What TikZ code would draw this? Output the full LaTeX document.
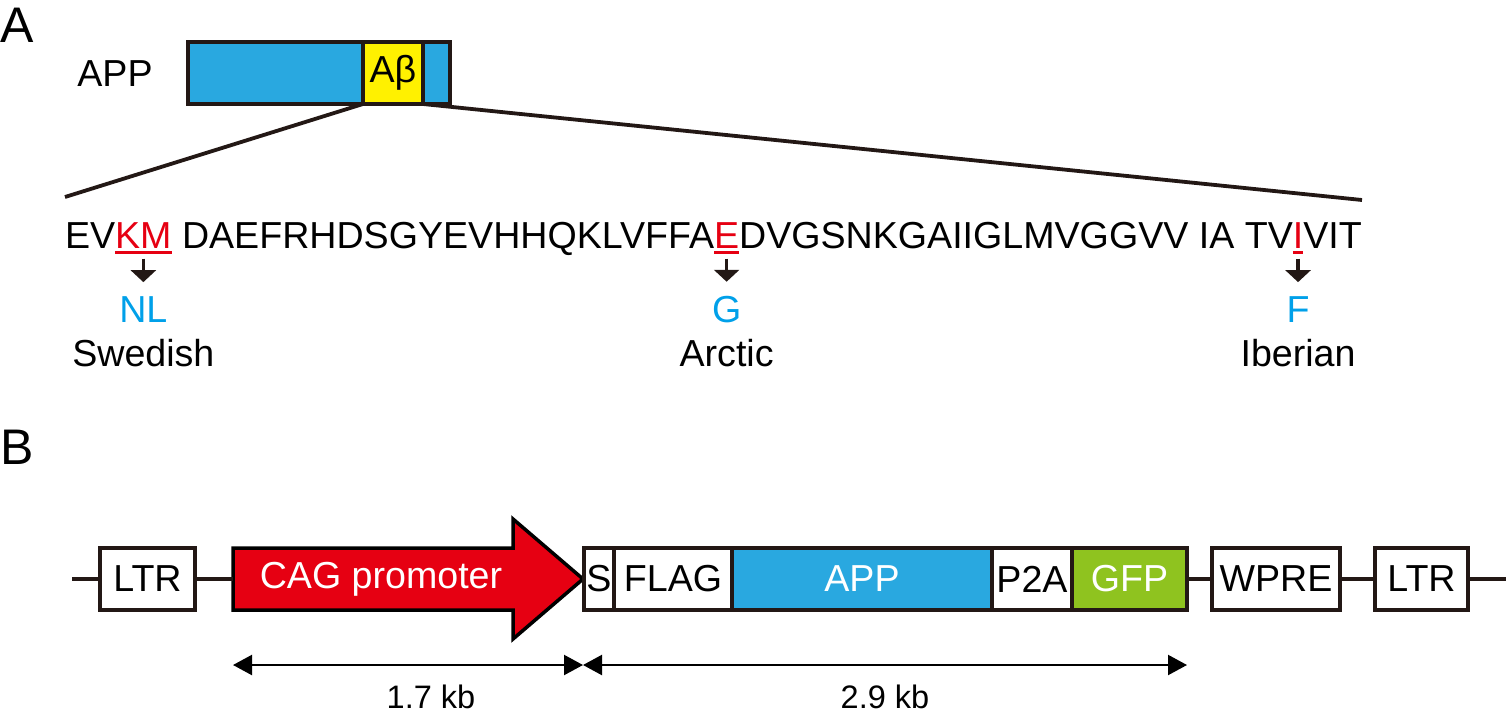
\documentclass[tikz,border=0pt]{standalone}
\usepackage{fontspec}
\setmainfont{Liberation Sans}
\usetikzlibrary{arrows.meta}
\definecolor{outl}{HTML}{231815}
\definecolor{appblue}{HTML}{29A8E0}
\definecolor{abyellow}{HTML}{FFF100}
\definecolor{mutred}{HTML}{E60012}
\definecolor{subcyan}{HTML}{00A0E9}
\definecolor{gfpgreen}{HTML}{8FC31F}
\begin{document}
\begin{tikzpicture}[x=1pt,y=-1pt,
  every node/.style={inner sep=0pt, outer sep=0pt},
  lbl/.style={font=\fontsize{37.6}{44}\selectfont, text=black},
  seq/.style={lbl, anchor=base west},
  panel/.style={font=\fontsize{50}{56}\selectfont, anchor=north west},
  sub/.style={lbl, text=subcyan, anchor=base},
  mutname/.style={lbl, anchor=base},
  ul/.style={draw=mutred, line width=2.2pt},
  mutarr/.style={draw=outl, line width=3.6pt, -{Triangle[length=12pt,width=25pt]}},
  topbox/.style={draw=outl, line width=3.8pt, minimum height=62},
  gbox/.style={draw=outl, line width=3.5pt, minimum height=62, fill=white, lbl},
  bline/.style={draw=outl, line width=3.5pt},
  zoomline/.style={draw=outl, line width=3.8pt},
  dimarr/.style={draw=black, line width=2.2pt, {Triangle[length=19pt,width=20pt]}-{Triangle[length=19pt,width=20pt]}},
  dimlbl/.style={font=\fontsize{32.5}{38}\selectfont, anchor=base}
]
\useasboundingbox (0,0) rectangle (1506,726);

% ---------- Panel A ----------
\node[panel] (pA) at (1,8) {A};
\node[lbl] (applbl) at (115,74) {APP};
\node[topbox, fill=appblue, minimum width=175] (app1) at (275.5,73) {};
\node[topbox, fill=abyellow, minimum width=60, lbl] (abeta) at (393,73) {Aβ};
\node[topbox, fill=appblue, minimum width=27] (app2) at (436.5,73) {};

\coordinate (zl) at (65,197);
\coordinate (zr) at (1362,200);
\draw[zoomline] (abeta.south west) -- (zl);
\draw[zoomline] (abeta.south east) -- (zr);

% sequence
\node[seq] (s1) at (65,248.5) {EV};
\node[seq, text=mutred] (km) at (s1.base east) {KM};
\node[seq] (s2) at (km.base east) {\ DAEFRHDSGYEVHHQKLVFFA};
\node[seq, text=mutred] (e) at (s2.base east) {E};
\node[seq] (s3) at (e.base east) {DVGSNKGAIIGLMVGGVV IA TV};
\node[seq, text=mutred] (i) at (s3.base east) {I};
\node[seq] (s4) at (i.base east) {VIT};

\draw[ul] ([yshift=-4pt]km.base west) -- ([yshift=-4pt]km.base east);
\draw[ul] ([yshift=-4pt]e.base west) -- ([yshift=-4pt]e.base east);
\draw[ul] ([yshift=-4pt]i.base west) -- ([yshift=-4pt]i.base east);

\node[sub] (nl) at ([yshift=-73.5pt]km.base) {NL};
\node[sub] (g) at ([yshift=-73.5pt]e.base) {G};
\node[sub] (f) at ([yshift=-73.5pt]i.base) {F};
\node[mutname] (swe) at ([yshift=-118pt]km.base) {Swedish};
\node[mutname] (arc) at ([yshift=-118pt]e.base) {Arctic};
\node[mutname] (ibe) at ([yshift=-118pt]i.base) {Iberian};

\draw[mutarr, shorten >=14pt] ([yshift=-10pt]km.base) -- (nl.north);
\draw[mutarr, shorten >=14pt] ([yshift=-10pt]e.base) -- (g.north);
\draw[mutarr, shorten >=14pt] ([yshift=-10pt]i.base) -- (f.north);

% ---------- Panel B ----------
\node[panel] (pB) at (1,430) {B};

\coordinate (bl) at (72,579);
\coordinate (br) at (1506,579);
\coordinate (cagw) at (233,579);

\node[gbox, minimum width=95] (ltr1) at (147.5,579) {LTR};
\draw[draw=black, fill=mutred, line width=3.5pt, line join=miter, miter limit=3]
  (233,548) -- (513,548) -- (513,519) -- (583,579) -- (513,639) -- (513,610) -- (233,610) -- cycle;
\node[lbl, text=white] (cag) at (381,579) {CAG promoter};

\node[gbox, minimum width=30] (s) at (599,579) {S};
\node[gbox, minimum width=118] (flag) at (673,579) {FLAG};
\node[gbox, minimum width=260, fill=appblue, text=white] (app) at (862,579) {APP};
\node[gbox, minimum width=80] (p2a) at (1032,579) {P2A};
\node[gbox, minimum width=115, fill=gfpgreen, text=white] (gfp) at (1129.5,579) {GFP};
\node[gbox, minimum width=128] (wpre) at (1276,579) {WPRE};
\node[gbox, minimum width=93] (ltr2) at (1421.5,579) {LTR};

\draw[bline] (bl) -- (ltr1.west);
\draw[bline] (ltr1.east) -- (cagw);
\draw[bline] (gfp.east) -- (wpre.west);
\draw[bline] (wpre.east) -- (ltr2.west);
\draw[bline] (ltr2.east) -- (br);

\coordinate (d1) at (233,665);
\coordinate (d2) at (583,665);
\coordinate (d3) at (1187,665);
\draw[dimarr] (d1) -- (d2);
\draw[dimarr] (d2) -- (d3);
\node[dimlbl] (k1) at (431,708) {1.7 kb};
\node[dimlbl] (k2) at (885,708) {2.9 kb};
\end{tikzpicture}
\end{document}
